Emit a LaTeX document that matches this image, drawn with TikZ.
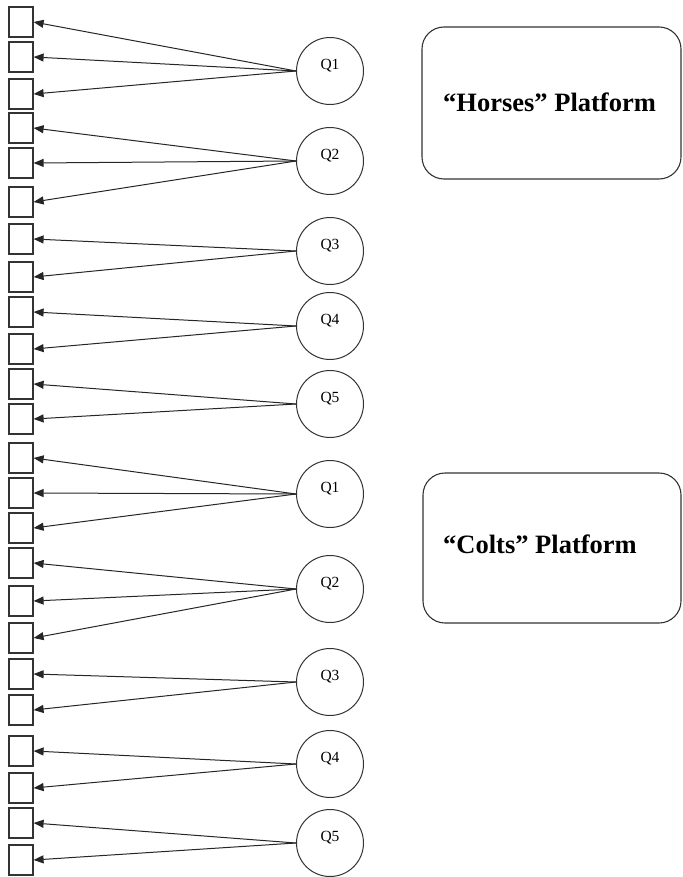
\documentclass[tikz,border=0pt]{standalone}
\usepackage{fontspec}
\setmainfont{Liberation Serif}
\usetikzlibrary{arrows.meta}
\definecolor{ink}{rgb}{0.2,0.2,0.2}
\tikzset{
  sqbox/.style={draw=ink, line width=1.2pt, minimum width=24pt, minimum height=30pt, inner sep=0pt},
  qcirc/.style={draw=ink, line width=1pt, circle, minimum size=67pt, inner sep=0pt},
  qlabel/.style={font=\fontsize{15.5}{18}\selectfont, inner sep=0pt, anchor=base},
  platform/.style={draw=ink, line width=1.1pt, rounded corners=22pt},
  ptext/.style={font=\fontsize{26.5}{30}\selectfont\bfseries, inner sep=0pt, anchor=base west},
  conn/.style={draw=black!85, line width=1pt, -{Triangle[length=10pt,width=8pt]}}
}
\begin{document}
\begin{tikzpicture}[x=1pt,y=-1pt]
\useasboundingbox (0,0) rectangle (682,877);
% squares
\foreach \yy [count=\i] in {22,57,94,128,163,202,239,277,312,349,384,419,458,493,528,563,601,638,674,710,751,788,823,860}
  \node[sqbox] (s\i) at (21,\yy) {};
% circles
\foreach \nm/\yy/\txt in {q1u/71/Q1,q2u/161/Q2,q3u/251/Q3,q4u/326/Q4,q5u/404/Q5,q1l/494/Q1,q2l/589/Q2,q3l/682/Q3,q4l/764/Q4,q5l/843/Q5}{
  \node[qcirc] (\nm) at (330,\yy) {};
  \node[qlabel] (\nm t) at (330,\yy-1.5) {\txt};
}
% platforms
\draw[platform] (422,27) rectangle (681,179);
\node[ptext] (horses) at (443,112) {“Horses” Platform};
\draw[platform] (423,473) rectangle (681,623);
\node[ptext] (colts) at (443,553) {“Colts” Platform};
% connectors
\foreach \q/\s in {q1u/1,q1u/2,q1u/3,q2u/4,q2u/5,q2u/6,q3u/7,q3u/8,q4u/9,q4u/10,q5u/11,q5u/12,q1l/13,q1l/14,q1l/15,q2l/16,q2l/17,q2l/18,q3l/19,q3l/20,q4l/21,q4l/22,q5l/23,q5l/24}
  \draw[conn] (\q.west) -- (s\s.east);
\end{tikzpicture}
\end{document}
